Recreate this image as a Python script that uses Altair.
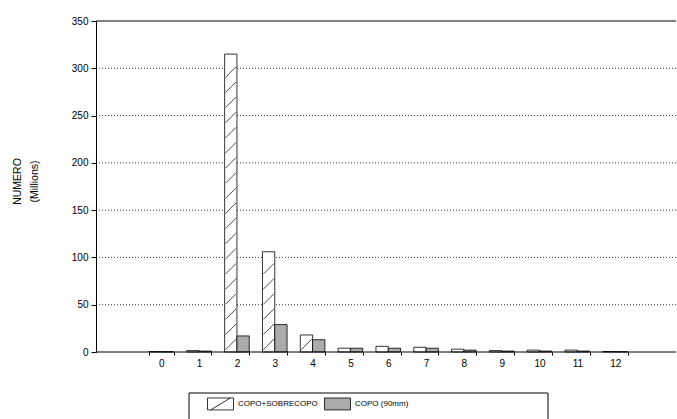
import altair as alt
import pandas as pd

categories = [str(i) for i in range(13)]
series_names = ["COPO+SOBRECOPO", "COPO (90mm)"]
copo_sobrecopo = [0.5, 1.5, 315, 106, 18, 4, 6, 5, 3, 1.5, 2, 2, 0.5]
copo_90 = [0.3, 1, 17, 29, 13, 4, 4, 4, 2, 1, 1, 1, 0.3]
y_ticks = [0, 50, 100, 150, 200, 250, 300, 350]
grid_ticks = [50, 100, 150, 200, 250, 300]

rows = []
for c, a, b in zip(categories, copo_sobrecopo, copo_90):
    rows.append({"cat": c, "serie": series_names[0], "valor": a})
    rows.append({"cat": c, "serie": series_names[1], "valor": b})
df = pd.DataFrame(rows)

# hatch decoration derived from the hatched-series values
hatch_rows = []
step = 16
for c, v in zip(categories, copo_sobrecopo):
    y = step / 2
    while y + step / 2 <= v + 0.5:
        hatch_rows.append({"cat": c, "serie": series_names[0], "valor": y})
        y += step
hatch_df = pd.DataFrame(hatch_rows)

FONT = "Liberation Sans"
W, H = 580, 331

x_enc = alt.X(
    "cat:N", sort=categories,
    scale=alt.Scale(domain=categories, paddingInner=0.35, paddingOuter=0,
                    range=[53, 531.5]),
    axis=alt.Axis(title=None, labelAngle=0, tickBand="extent", grid=False,
                  domain=False, tickColor="black", tickSize=3,
                  labelPadding=3, labelFontSize=10, labelColor="black", labelFont=FONT),
)
xoff = alt.XOffset("serie:N", sort=series_names,
                   scale=alt.Scale(domain=series_names, paddingInner=0, paddingOuter=0))
y_enc = alt.Y(
    "valor:Q", scale=alt.Scale(domain=[0, 350], nice=False),
    axis=alt.Axis(values=y_ticks, title=["NUMERO", "(Millions)"], grid=False,
                  domainColor="black", tickColor="black", tickSize=5,
                  labelPadding=3, labelFontSize=10, labelColor="black", labelFont=FONT,
                  titleFont=FONT, titleFontSize=10.5, titleFontWeight="normal",
                  titleColor="black", titleAngle=270, titleX=-79, titleY=160,
                  titleAlign="center", titleBaseline="middle", titleLineHeight=17),
)

hatch_path = "M-1,0.46L-1,-0.46L1,-0.46L1,0.46Z M-0.75,0.46L0.75,-0.46"
rect_path = "M-1,-0.46L1,-0.46L1,0.46L-1,0.46Z"

grid = alt.Chart(pd.DataFrame({"valor": grid_ticks})).mark_rule(
    color="black", strokeWidth=0.8, strokeDash=[1, 2]
).encode(y=y_enc, x=alt.value(0), x2=alt.value(W))

bars = alt.Chart(df).mark_bar(stroke="black", strokeWidth=0.8).encode(
    x=x_enc, xOffset=xoff, y=y_enc,
    color=alt.Color(
        "serie:N", sort=series_names,
        scale=alt.Scale(domain=series_names, range=["white", "#ababab"]),
        legend=alt.Legend(
            title=None, orient="none", legendX=107, legendY=365,
            direction="horizontal", padding=4,
            symbolType=alt.ExprRef(expr="datum && datum.value == 'COPO+SOBRECOPO' ? '" + hatch_path + "' : '" + rect_path + "'"),
            symbolSize=676, symbolStrokeColor="black",
            symbolStrokeWidth=0.8, symbolOpacity=1,
            labelFont=FONT, labelFontSize=8, labelColor="black",
            labelOffset=4, columnPadding=4, labelLimit=400,
        ),
    ),
)

hatch = alt.Chart(hatch_df).mark_point(
    shape="M-1,1L1,-1", size=110, filled=False, stroke="black",
    strokeWidth=0.7, opacity=1,
).encode(x=x_enc, xOffset=xoff, y=y_enc)

edges = alt.Chart(pd.DataFrame({"valor": [0, 350]})).mark_rule(
    color="black", strokeWidth=1
).encode(y=y_enc, x=alt.value(0), x2=alt.value(W))

# frame around the legend (decoration)
legend_frame = alt.Chart(pd.DataFrame({"k": [0]})).mark_rect(
    fill=None, stroke="black", strokeWidth=1
).encode(x=alt.value(93), x2=alt.value(452), y=alt.value(372), y2=alt.value(430))

chart = alt.layer(grid, bars, hatch, edges, legend_frame).properties(
    width=W, height=H,
    padding={"left": 96, "top": 21, "right": 1, "bottom": 67},
    autosize=alt.AutoSizeParams(type="none"),
).configure_view(stroke=None)

chart.save("out.html", embed_options={"renderer": "svg", "actions": False})
